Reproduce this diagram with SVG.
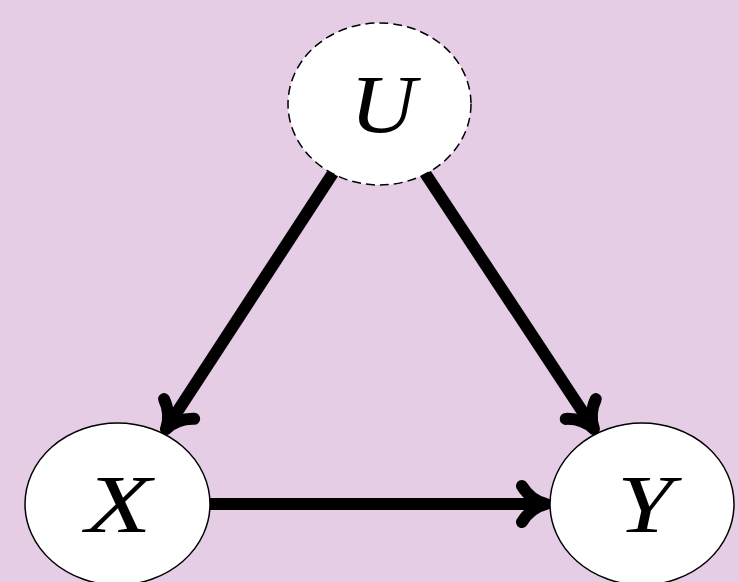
<svg xmlns="http://www.w3.org/2000/svg" width="739" height="582" viewBox="0 0 739 582">
<style>
.node{fill:#fff;stroke:#000;stroke-width:1.5}
.dash{stroke-dasharray:9 5}
.lbl{font-family:"Liberation Serif",serif;font-style:italic;font-size:82px;text-anchor:middle;fill:#000}
.edge{stroke:#000;stroke-width:12;fill:none}
</style>
<defs>
<marker id="ah" markerUnits="userSpaceOnUse" viewBox="-30 -25 40 50" refX="0" refY="0" markerWidth="40" markerHeight="50" orient="auto" overflow="visible">
<path d="M-24,-18 C-18,-8 -8,-2 0,0 C-8,2 -18,8 -24,18" fill="none" stroke="#000" stroke-width="12" stroke-linecap="round" stroke-linejoin="round"/>
</marker>
</defs>
<rect width="739" height="582" fill="#e5cde6"/>
<g id="edges">
<line class="edge" x1="333" y1="173" x2="166" y2="429" marker-end="url(#ah)"/>
<line class="edge" x1="425" y1="173" x2="594" y2="429" marker-end="url(#ah)"/>
<line class="edge" x1="210" y1="504" x2="546" y2="504" marker-end="url(#ah)"/>
</g>
<g id="U">
<ellipse class="node dash" cx="379.5" cy="104" rx="91.5" ry="81"/>
<text class="lbl" x="383" y="132" textLength="66" lengthAdjust="spacingAndGlyphs">U</text>
</g>
<g id="X">
<ellipse class="node" cx="117.5" cy="504" rx="92.5" ry="81"/>
<text class="lbl" x="118.5" y="532" textLength="66" lengthAdjust="spacingAndGlyphs">X</text>
</g>
<g id="Y">
<ellipse class="node" cx="642" cy="504" rx="92" ry="81"/>
<text class="lbl" x="645" y="532" textLength="56" lengthAdjust="spacingAndGlyphs">Y</text>
</g>
</svg>
